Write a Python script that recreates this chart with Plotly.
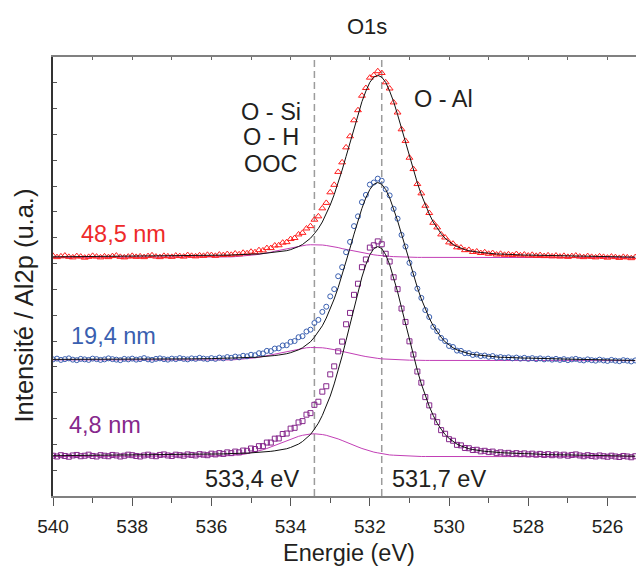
import plotly.graph_objects as go

# ---------------- data ----------------
# binding energy grid of the measured spectra (0.1 eV steps, 540.0 -> 525.3)
energy = [round(540.0 - 0.1 * i, 1) for i in range(148)]

red_data = [
    9.30, 9.25, 9.28, 9.31, 9.26, 9.24, 9.29, 9.27, 9.23, 9.26,
    9.30, 9.27, 9.24, 9.28, 9.25, 9.29, 9.31, 9.26, 9.24, 9.27,
    9.30, 9.26, 9.28, 9.25, 9.29, 9.32, 9.27, 9.25, 9.30, 9.28,
    9.26, 9.31, 9.29, 9.27, 9.33, 9.30, 9.28, 9.32, 9.30, 9.34,
    9.33, 9.30, 9.35, 9.33, 9.37, 9.34, 9.39, 9.36, 9.42, 9.40,
    9.46, 9.44, 9.52, 9.51, 9.60, 9.60, 9.70, 9.71, 9.81, 9.83,
    9.95, 9.99, 10.13, 10.19, 10.36, 10.45, 10.70, 10.83, 11.14, 11.35,
    11.76, 12.05, 12.55, 12.92, 13.50, 13.93, 14.55, 14.94, 15.50, 15.80,
    16.20, 16.30, 16.45, 16.38, 16.02, 15.78, 15.24, 14.85, 14.20, 13.75,
    13.10, 12.66, 12.08, 11.72, 11.24, 10.96, 10.58, 10.40, 10.13, 10.01,
    9.82, 9.77, 9.63, 9.62, 9.52, 9.53, 9.45, 9.47, 9.41, 9.44,
    9.38, 9.41, 9.35,
    9.38, 9.34, 9.36, 9.33, 9.37, 9.32, 9.35, 9.31, 9.34, 9.30,
    9.33, 9.29, 9.32, 9.28, 9.31, 9.27, 9.30, 9.26, 9.29, 9.31,
    9.27, 9.25, 9.29, 9.26, 9.24, 9.28, 9.26, 9.23, 9.27, 9.25,
    9.22, 9.26, 9.24, 9.21, 9.25,
]

blue_data = [
    5.29, 5.32, 5.27, 5.30, 5.33, 5.28, 5.26, 5.31, 5.29, 5.27,
    5.32, 5.30, 5.27, 5.29, 5.33, 5.30, 5.28, 5.26, 5.31, 5.29,
    5.32, 5.28, 5.30, 5.34, 5.29, 5.27, 5.31, 5.33, 5.30, 5.28,
    5.32, 5.30, 5.34, 5.31, 5.29, 5.33, 5.31, 5.35, 5.32, 5.30,
    5.34, 5.31, 5.36, 5.33, 5.38, 5.35, 5.40, 5.37, 5.43, 5.41,
    5.47, 5.45, 5.53, 5.52, 5.62, 5.61, 5.71, 5.72, 5.83, 5.84,
    5.97, 6.00, 6.15, 6.19, 6.37, 6.44, 6.70, 6.82, 7.13, 7.33,
    7.73, 8.01, 8.51, 8.86, 9.44, 9.84, 10.45, 10.83, 11.38, 11.66,
    12.06, 12.14, 12.29, 12.21, 11.88, 11.64, 11.12, 10.74, 10.11, 9.66,
    9.03, 8.60, 8.03, 7.67, 7.20, 6.93, 6.55, 6.38, 6.12, 6.00,
    5.81, 5.77, 5.63, 5.62, 5.53, 5.53, 5.46, 5.48, 5.42, 5.44,
    5.39, 5.42, 5.36,
    5.38, 5.35, 5.37, 5.33, 5.36, 5.32, 5.35, 5.31, 5.34, 5.30,
    5.33, 5.29, 5.32, 5.28, 5.31, 5.27, 5.30, 5.26, 5.29, 5.31,
    5.27, 5.25, 5.29, 5.26, 5.24, 5.28, 5.25, 5.23, 5.27, 5.24,
    5.22, 5.26, 5.24, 5.21, 5.25,
]

purple_data = [
    1.56, 1.53, 1.58, 1.55, 1.52, 1.57, 1.59, 1.54, 1.56, 1.60,
    1.55, 1.53, 1.58, 1.56, 1.54, 1.59, 1.57, 1.53, 1.56, 1.60,
    1.58, 1.55, 1.53, 1.57, 1.60, 1.56, 1.54, 1.59, 1.61, 1.57,
    1.55, 1.60, 1.58, 1.56, 1.61, 1.59, 1.57, 1.62, 1.60, 1.58,
    1.64, 1.61, 1.66, 1.63, 1.69, 1.66, 1.72, 1.69, 1.76, 1.75,
    1.84, 1.82, 1.93, 1.93, 2.07, 2.07, 2.22, 2.23, 2.40, 2.42,
    2.61, 2.64, 2.85, 2.90, 3.15, 3.21, 3.53, 3.65, 4.04, 4.25,
    4.71, 5.02, 5.60, 5.98, 6.65, 7.09, 7.79, 8.22, 8.86, 9.16,
    9.62, 9.71, 9.86, 9.75, 9.38, 9.08, 8.47, 8.01, 7.26, 6.74,
    5.99, 5.48, 4.82, 4.39, 3.83, 3.51, 3.08, 2.86, 2.55, 2.41,
    2.20, 2.14, 1.98, 1.96, 1.86, 1.85, 1.78, 1.79, 1.73, 1.75,
    1.70, 1.72, 1.66,
    1.69, 1.65, 1.67, 1.63, 1.66, 1.62, 1.65, 1.61, 1.64, 1.60,
    1.63, 1.59, 1.62, 1.58, 1.61, 1.57, 1.60, 1.56, 1.59, 1.61,
    1.57, 1.54, 1.58, 1.55, 1.53, 1.57, 1.54, 1.52, 1.56, 1.53,
    1.51, 1.55, 1.53, 1.50, 1.54,
]

# O - Al component fit (black), grid: coarse wings + 0.1 eV steps 536.0 -> 528.0
fit_energy = [540.0, 539.0, 538.0, 537.0, 536.5] + \
             [round(536.0 - 0.1 * i, 1) for i in range(81)] + \
             [527.5, 527.0, 526.0, 525.3]

red_fit = [
    9.26, 9.27, 9.28, 9.29, 9.30,
    9.31, 9.32, 9.32, 9.32, 9.33, 9.33, 9.34, 9.35, 9.35, 9.35,
    9.36, 9.37, 9.37, 9.39, 9.40, 9.42, 9.43, 9.45, 9.47, 9.50,
    9.54, 9.59, 9.66, 9.74, 9.85, 9.98, 10.16, 10.36, 10.61, 10.92,
    11.27, 11.67, 12.12, 12.62, 13.15, 13.69, 14.24, 14.77, 15.27, 15.68,
    16.02, 16.22, 16.29,
    16.22, 16.02, 15.68, 15.27, 14.77, 14.24, 13.69, 13.15, 12.62, 12.12,
    11.67, 11.27, 10.92, 10.61, 10.36, 10.16, 9.98, 9.85, 9.74, 9.66,
    9.59, 9.54, 9.50, 9.47, 9.45, 9.43, 9.42, 9.40, 9.39, 9.37,
    9.37, 9.36, 9.35, 9.35, 9.35, 9.34, 9.33, 9.33,
    9.31, 9.30, 9.27, 9.25,
]

blue_fit = [
    5.29, 5.29, 5.29, 5.30, 5.31,
    5.32, 5.33, 5.33, 5.33, 5.34, 5.34, 5.35, 5.35, 5.35, 5.36,
    5.37, 5.37, 5.38, 5.40, 5.41, 5.42, 5.44, 5.46, 5.48, 5.51,
    5.55, 5.60, 5.66, 5.74, 5.84, 5.97, 6.15, 6.35, 6.59, 6.89,
    7.23, 7.63, 8.07, 8.55, 9.07, 9.60, 10.14, 10.66, 11.14, 11.55,
    11.87, 12.07, 12.14,
    12.07, 11.87, 11.55, 11.14, 10.66, 10.14, 9.60, 9.07, 8.55, 8.07,
    7.63, 7.23, 6.89, 6.59, 6.35, 6.15, 5.97, 5.84, 5.74, 5.66,
    5.60, 5.55, 5.51, 5.48, 5.46, 5.44, 5.42, 5.41, 5.40, 5.38,
    5.37, 5.37, 5.36, 5.35, 5.35, 5.35, 5.34, 5.34,
    5.31, 5.30, 5.27, 5.25,
]

purple_fit = [
    1.56, 1.57, 1.58, 1.59, 1.60,
    1.61, 1.62, 1.62, 1.63, 1.64, 1.64, 1.64, 1.65, 1.65, 1.66,
    1.67, 1.68, 1.68, 1.70, 1.72, 1.73, 1.75, 1.77, 1.80, 1.83,
    1.88, 1.94, 2.01, 2.11, 2.23, 2.38, 2.59, 2.82, 3.12, 3.47,
    3.87, 4.34, 4.86, 5.42, 6.03, 6.66, 7.29, 7.91, 8.48, 8.96,
    9.34, 9.58, 9.66,
    9.58, 9.34, 8.96, 8.48, 7.91, 7.29, 6.66, 6.03, 5.42, 4.86,
    4.34, 3.87, 3.47, 3.12, 2.82, 2.59, 2.38, 2.23, 2.11, 2.01,
    1.94, 1.88, 1.83, 1.80, 1.77, 1.75, 1.73, 1.72, 1.70, 1.68,
    1.68, 1.67, 1.66, 1.65, 1.65, 1.64, 1.64, 1.64,
    1.60, 1.59, 1.56, 1.54,
]

# O - Si / O - H / OOC component (magenta), grid 536.5 -> 530.3 plus the ends
mag_energy = [540.0] + [round(536.5 - 0.1 * i, 1) for i in range(63)] + [525.3]

red_mag = [
    9.24,
    9.24, 9.24, 9.24, 9.24, 9.24, 9.24, 9.25, 9.25, 9.25, 9.25,
    9.26, 9.27, 9.28, 9.29, 9.30, 9.32, 9.34, 9.36, 9.38, 9.41,
    9.44, 9.48, 9.51, 9.55, 9.58, 9.62, 9.65, 9.68, 9.70, 9.72,
    9.73, 9.73,
    9.73, 9.72, 9.70, 9.68, 9.65, 9.62, 9.58, 9.55, 9.51, 9.48,
    9.44, 9.41, 9.38, 9.36, 9.34, 9.32, 9.30, 9.29, 9.28, 9.27,
    9.26, 9.25, 9.25, 9.25, 9.25, 9.24, 9.24, 9.24, 9.24, 9.24, 9.24,
    9.23,
]

blue_mag = [
    5.27,
    5.25, 5.25, 5.25, 5.25, 5.25, 5.25, 5.26, 5.26, 5.26, 5.27,
    5.27, 5.28, 5.29, 5.30, 5.31, 5.33, 5.35, 5.37, 5.40, 5.43,
    5.46, 5.49, 5.53, 5.56, 5.60, 5.64, 5.67, 5.70, 5.72, 5.74,
    5.75, 5.75,
    5.75, 5.74, 5.72, 5.70, 5.67, 5.64, 5.60, 5.56, 5.53, 5.49,
    5.46, 5.43, 5.40, 5.37, 5.35, 5.33, 5.31, 5.30, 5.29, 5.28,
    5.27, 5.27, 5.26, 5.26, 5.26, 5.25, 5.25, 5.25, 5.25, 5.25, 5.25,
    5.24,
]

purple_mag = [
    1.53,
    1.53, 1.53, 1.53, 1.53, 1.53, 1.54, 1.54, 1.54, 1.55, 1.56,
    1.57, 1.58, 1.59, 1.61, 1.64, 1.67, 1.70, 1.74, 1.79, 1.84,
    1.90, 1.96, 2.02, 2.08, 2.15, 2.21, 2.26, 2.31, 2.35, 2.38,
    2.40, 2.41,
    2.40, 2.38, 2.35, 2.31, 2.26, 2.21, 2.15, 2.08, 2.02, 1.96,
    1.90, 1.84, 1.79, 1.74, 1.70, 1.67, 1.64, 1.61, 1.59, 1.58,
    1.57, 1.56, 1.55, 1.54, 1.54, 1.54, 1.53, 1.53, 1.53, 1.53, 1.53,
    1.52,
]

series_labels = ["48,5 nm", "19,4 nm", "4,8 nm"]
peak_positions = [533.4, 531.7]          # eV, dashed markers
peak_labels = ["533,4 eV", "531,7 eV"]
x_ticks = [540, 538, 536, 534, 532, 530, 528, 526]

# ---------------- styling ----------------
FONT = "Liberation Sans, Arial, Helvetica, sans-serif"
TXT = "#231f20"
RED, BLUE, PURPLE = "#ff1f1f", "#3a5fb0", "#86288c"
MAGENTA = "#c23fb6"

series = [
    (red_data, red_fit, red_mag, RED, "triangle-up-open", 6),
    (blue_data, blue_fit, blue_mag, BLUE, "circle-open", 5),
    (purple_data, purple_fit, purple_mag, PURPLE, "square-open", 5),
]

fig = go.Figure()

# magenta components (bottom)
for data, fit, mag, col, sym, sz in series:
    fig.add_trace(go.Scatter(x=mag_energy, y=mag, mode="lines",
                             line=dict(color=MAGENTA, width=1), hoverinfo="skip"))
# measured points
for data, fit, mag, col, sym, sz in series:
    fig.add_trace(go.Scatter(x=energy, y=data, mode="markers",
                             marker=dict(symbol=sym, size=sz, color=col,
                                         line=dict(width=1, color=col))))
# main component fits (top)
for data, fit, mag, col, sym, sz in series:
    fig.add_trace(go.Scatter(x=fit_energy, y=fit, mode="lines",
                             line=dict(color="#111111", width=1), hoverinfo="skip"))

XR = [540, 525.28]

fig.update_layout(
    width=636, height=570,
    margin=dict(l=53, r=0, t=57, b=74),
    paper_bgcolor="white", plot_bgcolor="white",
    showlegend=False,
    font=dict(family=FONT, color=TXT),
    xaxis=dict(
        range=XR, tickvals=x_ticks, ticks="outside", ticklen=8, tickwidth=1.3,
        tickcolor="#555555", showline=True, linecolor="#808080", linewidth=2,
        tickfont=dict(size=19, color=TXT, family=FONT),
        minor=dict(tickvals=[539, 537, 535, 533, 531, 529, 527], ticks="outside",
                   ticklen=5, tickwidth=1.3, tickcolor="#555555"),
        showgrid=False, zeroline=False, ticklabelstandoff=4,
    ),
    xaxis2=dict(
        range=XR, overlaying="x", side="top", tick0=540, dtick=1,
        ticks="inside", ticklen=3, tickwidth=1.3, tickcolor="#666666",
        showticklabels=False, showline=True, linecolor="#808080", linewidth=2,
        showgrid=False, zeroline=False,
    ),
    yaxis=dict(
        range=[0, 17], tick0=0, dtick=1, ticks="inside", ticklen=4, tickwidth=1.2,
        tickcolor="#555555", showticklabels=False, showline=True,
        linecolor="#333333", linewidth=1.5, showgrid=False, zeroline=False,
    ),
)

# invisible helper so the top axis is drawn
fig.add_trace(go.Scatter(x=[540], y=[0], xaxis="x2", mode="markers",
                         marker=dict(opacity=0), hoverinfo="skip"))

for px in peak_positions:
    fig.add_shape(type="line", x0=px, x1=px, y0=0, y1=1, xref="x", yref="paper",
                  line=dict(color="#9c9c9c", width=1.5, dash="7px,4px"), layer="below")

ann = []
def txt(text, x, y, size=23.5, color=TXT, xref="x", yref="y", angle=0):
    ann.append(dict(text=text, x=x, y=y, xref=xref, yref=yref, showarrow=False,
                    xanchor="center", yanchor="middle", textangle=angle,
                    font=dict(size=size, color=color, family=FONT)))

txt("O1s", 0.5386, 1.0706, size=22, xref="paper", yref="paper")
txt("Energie (eV)", 0.5077, -0.130, size=23.5, xref="paper", yref="paper")
txt("Intensité / Al2p (u.a.)", -0.049, 0.435, size=25.5, xref="paper", yref="paper", angle=-90)
txt("O - Si", 534.49, 14.88)
txt("O - H", 534.49, 13.91)
txt("OOC", 534.49, 12.87)
txt("O - Al", 530.15, 15.37)
txt(series_labels[0], 538.23, 10.14, color="#ee2a2a")
txt(series_labels[1], 538.46, 6.20, color=BLUE)
txt(series_labels[2], 538.69, 2.75, color=PURPLE)
txt(peak_labels[0], 534.97, 0.66)
txt(peak_labels[1], 530.25, 0.66)
fig.update_layout(annotations=ann)

fig.write_html("out.html", config={"displayModeBar": False},
               post_script="document.body.style.margin='0';document.body.style.overflow='hidden';")
